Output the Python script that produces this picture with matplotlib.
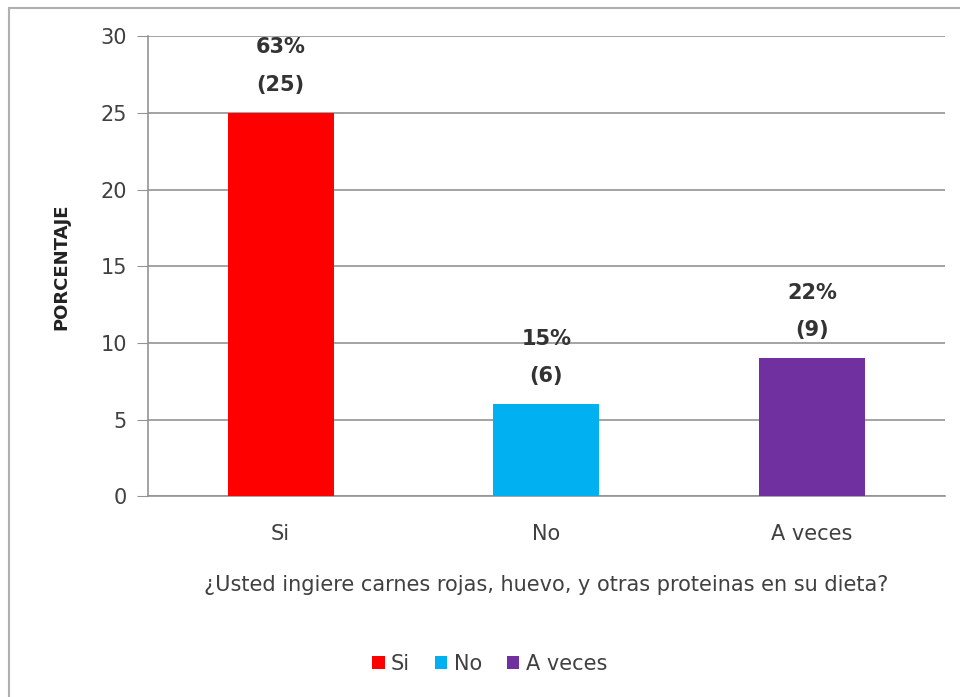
import matplotlib.pyplot as plt
from matplotlib.patches import Rectangle

categorias = ['Si', 'No', 'A veces']
valores = [25, 6, 9]
porcentajes = ['63%', '15%', '22%']
colores = ['#FF0000', '#00B0F0', '#7030A0']

plt.rcParams['font.family'] = ['DejaVu Sans']

fig = plt.figure(figsize=(9.6, 6.97), dpi=100)
ax = fig.add_axes([0.154, 0.288, 0.830, 0.660])

x = range(len(categorias))
barras = ax.bar(x, valores, width=0.4, color=colores, zorder=3)

# etiquetas de porcentaje y frecuencia encima de cada barra
for xi, v, p in zip(x, valores, porcentajes):
    ax.annotate('(%d)' % v, (xi, v), xytext=(0, 13), textcoords='offset points',
                ha='center', va='bottom', fontsize=15, fontweight='bold', color='#333333')
    ax.annotate(p, (xi, v), xytext=(0, 40), textcoords='offset points',
                ha='center', va='bottom', fontsize=15, fontweight='bold', color='#333333')

ax.set_xlim(-0.5, 2.5)
ax.set_ylim(0, 30)
ax.set_yticks(range(0, 31, 5))
ax.set_xticks(list(x))
ax.set_xticklabels(categorias)
ax.yaxis.grid(True, color='#939393', linewidth=1.2, zorder=0)
ax.tick_params(axis='y', length=8, color='#939393', labelsize=15, labelcolor='#404040', pad=7)
ax.tick_params(axis='x', length=0, labelsize=15, labelcolor='#404040', pad=20)
for s in ['top', 'right']:
    ax.spines[s].set_visible(False)
ax.spines['left'].set_color('#939393')
ax.spines['bottom'].set_color('#939393')
ax.spines['left'].set_linewidth(1.2)
ax.spines['bottom'].set_linewidth(1.2)

ax.set_ylabel('PORCENTAJE', fontsize=13, fontweight='bold', color='#222222', labelpad=22)
ax.set_xlabel('¿Usted ingiere carnes rojas, huevo, y otras proteinas en su dieta?',
              fontsize=15, color='#404040', labelpad=22)

ax.legend(barras, categorias, loc='center', bbox_to_anchor=(0.51, 0.048),
          bbox_transform=fig.transFigure, ncol=3, frameon=False, fontsize=15,
          handlelength=0.6, handleheight=0.6, handletextpad=0.3, columnspacing=1.2,
          labelcolor='#404040')

# marco del gráfico
fig.add_artist(Rectangle((0.009, -0.1), 1.2, 1.088, transform=fig.transFigure,
                         fill=False, edgecolor='#b0b0b0', linewidth=1.5))

fig.savefig('out.png', dpi=100)
